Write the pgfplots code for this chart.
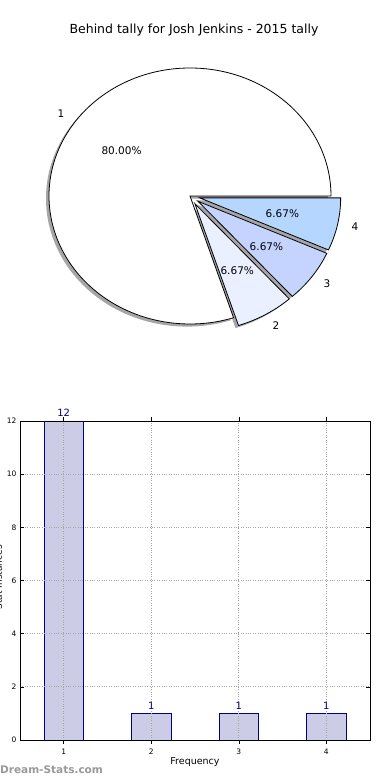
\documentclass[border=0pt]{standalone}
\usepackage{pgfplots}
\pgfplotsset{compat=1.18}
\usepackage{fontspec}
\setmainfont{DejaVu Sans}
\definecolor{barfill}{HTML}{CCCCE6}
\definecolor{baredge}{HTML}{000080}
\definecolor{sA}{HTML}{FFFFFF}
\definecolor{sB}{HTML}{EAF0FF}
\definecolor{sC}{HTML}{C4D4FF}
\definecolor{sD}{HTML}{B4D6FF}
\definecolor{shadowc}{HTML}{A6A6A6}
\begin{document}
\begin{tikzpicture}[x=1pt,y=1pt]
\path[use as bounding box] (0pt,0pt) rectangle (390pt,780pt);
\clip (0pt,0pt) rectangle (390pt,780pt);
% pie data: counts 12,1,1,1
\pgfmathsetmacro{\tot}{12+1+1+1}
\pgfmathsetmacro{\aA}{0}
\pgfmathsetmacro{\aB}{\aA+360*12/\tot}
\pgfmathsetmacro{\aC}{\aB+360*1/\tot}
\pgfmathsetmacro{\aD}{\aC+360*1/\tot}
\pgfmathsetmacro{\aE}{\aD+360*1/\tot}
\def\cx{190}\def\cy{584}\def\rx{141}\def\ry{128}\def\ex{0.07}
\begin{axis}[at={(0pt,0pt)},anchor=south west,scale only axis,width=390pt,height=780pt,
  xmin=0,xmax=390,ymin=0,ymax=780,hide axis,clip=false]
% shadows
\fill[shadowc] (axis cs:{\cx-3},{\cy-2.6}) -- ++(\aA:\rx pt and \ry pt) arc[start angle=\aA,end angle=\aB,x radius=\rx pt,y radius=\ry pt] -- cycle;
\fill[shadowc] (axis cs:{\cx-3+\ex*\rx*cos((\aB+\aC)/2)},{\cy-2.6+\ex*\ry*sin((\aB+\aC)/2)}) -- ++(\aB:\rx pt and \ry pt) arc[start angle=\aB,end angle=\aC,x radius=\rx pt,y radius=\ry pt] -- cycle;
\fill[shadowc] (axis cs:{\cx-3+\ex*\rx*cos((\aC+\aD)/2)},{\cy-2.6+\ex*\ry*sin((\aC+\aD)/2)}) -- ++(\aC:\rx pt and \ry pt) arc[start angle=\aC,end angle=\aD,x radius=\rx pt,y radius=\ry pt] -- cycle;
\fill[shadowc] (axis cs:{\cx-3+\ex*\rx*cos((\aD+\aE)/2)},{\cy-2.6+\ex*\ry*sin((\aD+\aE)/2)}) -- ++(\aD:\rx pt and \ry pt) arc[start angle=\aD,end angle=\aE,x radius=\rx pt,y radius=\ry pt] -- cycle;
% wedges
\filldraw[fill=sA,draw=black,line width=0.8pt,line join=miter] (axis cs:{\cx},{\cy}) -- ++(\aA:\rx pt and \ry pt) arc[start angle=\aA,end angle=\aB,x radius=\rx pt,y radius=\ry pt] -- cycle;
\filldraw[fill=sB,draw=black,line width=0.8pt,line join=miter] (axis cs:{\cx+\ex*\rx*cos((\aB+\aC)/2)},{\cy+\ex*\ry*sin((\aB+\aC)/2)}) -- ++(\aB:\rx pt and \ry pt) arc[start angle=\aB,end angle=\aC,x radius=\rx pt,y radius=\ry pt] -- cycle;
\filldraw[fill=sC,draw=black,line width=0.8pt,line join=miter] (axis cs:{\cx+\ex*\rx*cos((\aC+\aD)/2)},{\cy+\ex*\ry*sin((\aC+\aD)/2)}) -- ++(\aC:\rx pt and \ry pt) arc[start angle=\aC,end angle=\aD,x radius=\rx pt,y radius=\ry pt] -- cycle;
\filldraw[fill=sD,draw=black,line width=0.8pt,line join=miter] (axis cs:{\cx+\ex*\rx*cos((\aD+\aE)/2)},{\cy+\ex*\ry*sin((\aD+\aE)/2)}) -- ++(\aD:\rx pt and \ry pt) arc[start angle=\aD,end angle=\aE,x radius=\rx pt,y radius=\ry pt] -- cycle;
% labels
\node[anchor=east,font=\fontsize{10.5}{12}\selectfont,inner sep=0pt] at (axis cs:{\cx+1.1*\rx*cos((\aA+\aB)/2)},{\cy+1.1*\ry*sin((\aA+\aB)/2)}) {1};
\node[anchor=west,font=\fontsize{10.5}{12}\selectfont,inner sep=0pt] at (axis cs:{\cx+(1.1+\ex)*\rx*cos((\aB+\aC)/2)},{\cy+(1.1+\ex)*\ry*sin((\aB+\aC)/2)}) {2};
\node[anchor=west,font=\fontsize{10.5}{12}\selectfont,inner sep=0pt] at (axis cs:{\cx+(1.1+\ex)*\rx*cos((\aC+\aD)/2)},{\cy+(1.1+\ex)*\ry*sin((\aC+\aD)/2)}) {3};
\node[anchor=west,font=\fontsize{10.5}{12}\selectfont,inner sep=0pt] at (axis cs:{\cx+(1.1+\ex)*\rx*cos((\aD+\aE)/2)},{\cy+(1.1+\ex)*\ry*sin((\aD+\aE)/2)}) {4};
\node[font=\fontsize{10.5}{12}\selectfont,inner sep=0pt] at (axis cs:{\cx+0.6*\rx*cos((\aA+\aB)/2)},{\cy+0.6*\ry*sin((\aA+\aB)/2)}) {80.00\%};
\node[font=\fontsize{10.5}{12}\selectfont,inner sep=0pt] at (axis cs:{\cx+(0.6+\ex)*\rx*cos((\aB+\aC)/2)},{\cy+(0.6+\ex)*\ry*sin((\aB+\aC)/2)}) {6.67\%};
\node[font=\fontsize{10.5}{12}\selectfont,inner sep=0pt] at (axis cs:{\cx+(0.6+\ex)*\rx*cos((\aC+\aD)/2)},{\cy+(0.6+\ex)*\ry*sin((\aC+\aD)/2)}) {6.67\%};
\node[font=\fontsize{10.5}{12}\selectfont,inner sep=0pt] at (axis cs:{\cx+(0.6+\ex)*\rx*cos((\aD+\aE)/2)},{\cy+(0.6+\ex)*\ry*sin((\aD+\aE)/2)}) {6.67\%};
% title
\node[font=\fontsize{12.5}{14}\selectfont,inner sep=0pt] at (axis cs:194,750) {Behind tally for Josh Jenkins - 2015 tally};
% watermark
\node[anchor=west,font=\fontsize{10.5}{13}\selectfont\bfseries,text=black!40,inner sep=0pt] at (axis cs:0,10) {Dream-Stats.com};
\end{axis}
% bar chart
\begin{axis}[at={(20pt,40pt)},anchor=south west,scale only axis,width=350pt,height=319pt,
  xmin=0.5,xmax=4.5,ymin=0,ymax=12,
  xtick={1,2,3,4},ytick={0,2,4,6,8,10,12},
  /pgf/number format/assume math mode=true,
  grid=major,grid style={dotted,black!35,line width=0.7pt},
  axis on top,tick align=inside,major tick length=4pt,
  tick style={black,line width=0.5pt},
  axis line style={black,line width=0.8pt},
  ticklabel style={font=\fontsize{7.5}{8}\selectfont},
  xticklabel style={yshift=-1pt},
  xlabel={Frequency},
  xlabel style={font=\fontsize{9.5}{11}\selectfont,yshift=3pt},
  ylabel={Stat Instances},
  ylabel style={font=\fontsize{9}{11}\selectfont,at={(axis description cs:-0.0615,0.51)},anchor=center},
  ybar,bar width=0.45,
  nodes near coords,
  nodes near coords style={text=baredge,font=\fontsize{10}{12}\selectfont,inner sep=1.5pt,yshift=2.5pt}]
\addplot[fill=barfill,draw=baredge,line width=0.8pt] coordinates {(1,12) (2,1) (3,1) (4,1)};
\end{axis}
\end{tikzpicture}
\end{document}
